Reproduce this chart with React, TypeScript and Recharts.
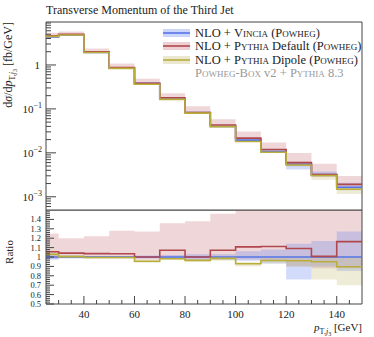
import React from "react";
import { ComposedChart, Line, Area, XAxis, YAxis, ReferenceArea } from "recharts";

// bin edges of the pT(j3) histogram [GeV]
const binEdges = [25, 30, 40, 50, 60, 70, 80, 90, 100, 110, 120, 130, 140, 150];

// central values [fb/GeV]
const vincia = [4.35, 4.8, 1.93, 0.84, 0.38, 0.168, 0.083, 0.04, 0.0195, 0.0107, 0.0055, 0.0032, 0.00165];
const pythiaDefault = [4.59, 5.0, 2.0, 0.869, 0.38, 0.18, 0.083, 0.0429, 0.0216, 0.0119, 0.006, 0.00322, 0.00192];
const pythiaDipole = [4.48, 4.82, 1.92, 0.836, 0.363, 0.165, 0.08, 0.0394, 0.0181, 0.0103, 0.00528, 0.00304, 0.00148];

// uncertainty bands, read as ratio to Vincia
const vinciaLo = [0.97, 0.985, 0.99, 0.99, 0.985, 0.98, 0.97, 0.97, 0.96, 0.93, 0.76, 0.9, 0.85];
const vinciaHi = [1.03, 1.015, 1.01, 1.01, 1.015, 1.02, 1.03, 1.03, 1.06, 1.08, 1.14, 1.17, 1.27];
const defaultLo = [0.98, 0.99, 0.99, 0.99, 0.97, 0.99, 0.97, 0.99, 0.97, 0.97, 0.9, 0.88, 0.88];
const defaultHi = [1.25, 1.2, 1.22, 1.28, 1.27, 1.36, 1.38, 1.46, 1.56, 1.6, 1.8, 1.76, 1.8];
const dipoleLo = [1.0, 0.99, 0.98, 0.98, 0.94, 0.97, 0.95, 0.96, 0.9, 0.93, 0.9, 0.76, 0.7];
const dipoleHi = [1.07, 1.02, 1.01, 1.01, 0.97, 1.0, 0.98, 1.0, 0.95, 0.99, 1.0, 1.0, 1.0];

const xTicks = [30, 35, 40, 45, 50, 55, 60, 65, 70, 75, 80, 85, 90, 95, 100, 105, 110, 115, 120, 125, 130, 135, 140, 145];
const logTicks = [
  6e-4, 7e-4, 8e-4, 9e-4, 1e-3, 2e-3, 3e-3, 4e-3, 5e-3, 6e-3, 7e-3, 8e-3, 9e-3,
  1e-2, 2e-2, 3e-2, 4e-2, 5e-2, 6e-2, 7e-2, 8e-2, 9e-2,
  0.1, 0.2, 0.3, 0.4, 0.5, 0.6, 0.7, 0.8, 0.9, 1, 2, 3, 4, 5, 6, 7, 8, 9,
];
const ratioTicks = [
  0.5, 0.52, 0.54, 0.56, 0.58, 0.6, 0.62, 0.64, 0.66, 0.68, 0.7, 0.72, 0.74, 0.76, 0.78,
  0.8, 0.82, 0.84, 0.86, 0.88, 0.9, 0.92, 0.94, 0.96, 0.98, 1, 1.02, 1.04, 1.06, 1.08,
  1.1, 1.12, 1.14, 1.16, 1.18, 1.2, 1.22, 1.24, 1.26, 1.28, 1.3, 1.32, 1.34, 1.36, 1.38, 1.4,
  1.42, 1.44, 1.46, 1.48,
];

const BLUE = "#5574e6";
const RED = "#b0474d";
const YELLOW = "#b9ad3c";
const FONT = "'Liberation Serif', serif";
const AXIS = "#444";

// stepAfter needs a closing point at the last edge
const rows = binEdges.map((x, i) => {
  const k = Math.min(i, vincia.length - 1);
  const v = vincia[k];
  return {
    x,
    vincia: v,
    def: pythiaDefault[k],
    dip: pythiaDipole[k],
    vBand: [v * vinciaLo[k], v * vinciaHi[k]],
    dBand: [v * defaultLo[k], v * defaultHi[k]],
    pBand: [v * dipoleLo[k], v * dipoleHi[k]],
    rVincia: 1,
    rDef: pythiaDefault[k] / v,
    rDip: pythiaDipole[k] / v,
    rvBand: [vinciaLo[k], vinciaHi[k]],
    rdBand: [defaultLo[k], defaultHi[k]],
    rpBand: [dipoleLo[k], dipoleHi[k]],
  };
});

const isDecade = (v: number) => Math.abs(Math.log10(v) - Math.round(Math.log10(v))) < 1e-6;

const makeXTick = (labels: boolean) => (props: any) => {
  const { x, y, payload } = props;
  const v = payload.value;
  const major = v % 20 === 0;
  return (
    <g>
      <line x1={x} x2={x} y1={y} y2={y - (major ? 8 : 4)} stroke={AXIS} />
      {labels && major && (
        <text x={x} y={y + 14} textAnchor="middle" fontSize={11} fontFamily={FONT} fill="#222">
          {v}
        </text>
      )}
    </g>
  );
};

const LogTick = (props: any) => {
  const { x, y, payload } = props;
  const v = payload.value;
  const major = isDecade(v);
  const exp = Math.round(Math.log10(v));
  return (
    <g>
      <line x1={x} x2={x + (major ? 10 : 5)} y1={y} y2={y} stroke={AXIS} />
      {major &&
        (exp === 0 ? (
          <text x={x - 6} y={y + 4} textAnchor="end" fontSize={11} fontFamily={FONT} fill="#222">
            1
          </text>
        ) : (
          <text x={x - 4} y={y + 4} textAnchor="end" fontSize={11} fontFamily={FONT} fill="#222">
            10
            <tspan dy={-5} fontSize={8}>
              {"\u2212" + Math.abs(exp)}
            </tspan>
          </text>
        ))}
    </g>
  );
};

const RatioTick = (props: any) => {
  const { x, y, payload } = props;
  const v = payload.value;
  const tenth = Math.round(v * 10);
  const major = Math.abs(v * 10 - tenth) < 1e-6;
  return (
    <g>
      <line x1={x} x2={x + (major ? 8 : 4)} y1={y} y2={y} stroke={AXIS} />
      {major && (
        <text x={x - 5} y={y + 3} textAnchor="end" fontSize={8.5} fontFamily={FONT} fill="#222">
          {tenth === 10 ? "1" : (tenth / 10).toFixed(1)}
        </text>
      )}
    </g>
  );
};

const bandProps = { type: "stepAfter" as const, stroke: "none", isAnimationActive: false, activeDot: false, dot: false };
const lineProps = { type: "stepAfter" as const, strokeWidth: 1.6, dot: false, activeDot: false, isAnimationActive: false };

const LegendRow = ({ y, color, band, label }: { y: number; color: string; band: string; label: React.ReactNode }) => (
  <g>
    <rect x={163} y={y - 4} width={27} height={8} fill={band} />
    <line x1={163} x2={190} y1={y} y2={y} stroke={color} strokeWidth={1.6} />
    <text x={195} y={y + 4} fontSize={12.5} fontFamily={FONT} fill="#222">
      {label}
    </text>
  </g>
);

const SC = ({ children }: { children: React.ReactNode }) => (
  <tspan style={{ fontVariant: "small-caps" }}>{children}</tspan>
);

export default function App() {
  return (
    <div style={{ position: "absolute", left: 0, top: 0, width: 374, height: 337, background: "#fff" }}>
      <div style={{ position: "absolute", left: 0, top: 0 }}>
        <ComposedChart width={374} height={212} data={rows} margin={{ top: 22, right: 12, bottom: 2, left: 0 }}>
          <XAxis
            dataKey="x"
            type="number"
            domain={[25, 150]}
            ticks={xTicks}
            interval={0}
            allowDataOverflow
            height={0}
            tickSize={0}
            tickMargin={0}
            tickLine={false}
            axisLine={false}
            tick={makeXTick(false)}
          />
          <YAxis
            scale="log"
            type="number"
            domain={[5e-4, 9.5]}
            ticks={logTicks}
            interval={0}
            allowDataOverflow
            width={46}
            tickSize={0}
            tickMargin={0}
            tickLine={false}
            axisLine={false}
            tick={LogTick}
          />
          <Area dataKey="dBand" {...bandProps} fill="rgb(196,110,120)" fillOpacity={0.28} />
          <Area dataKey="vBand" {...bandProps} fill="rgb(110,135,240)" fillOpacity={0.3} />
          <Area dataKey="pBand" {...bandProps} fill="rgb(200,190,120)" fillOpacity={0.3} />
          <Line dataKey="vincia" {...lineProps} stroke={BLUE} />
          <Line dataKey="def" {...lineProps} stroke={RED} />
          <Line dataKey="dip" {...lineProps} stroke={YELLOW} />
          <ReferenceArea x1={25} x2={150} y1={5e-4} y2={9.5} fill="none" stroke={AXIS} strokeWidth={1} />
        </ComposedChart>
      </div>
      <div style={{ position: "absolute", left: 0, top: 210 }}>
        <ComposedChart width={374} height={127} data={rows} margin={{ top: 0, right: 12, bottom: 0, left: 0 }}>
          <XAxis
            dataKey="x"
            type="number"
            domain={[25, 150]}
            ticks={xTicks}
            interval={0}
            allowDataOverflow
            height={33}
            tickSize={0}
            tickMargin={0}
            tickLine={false}
            axisLine={false}
            tick={makeXTick(true)}
          />
          <YAxis
            type="number"
            domain={[0.5, 1.5]}
            ticks={ratioTicks}
            interval={0}
            allowDataOverflow
            width={46}
            tickSize={0}
            tickMargin={0}
            tickLine={false}
            axisLine={false}
            tick={RatioTick}
          />
          <Area dataKey="rdBand" {...bandProps} fill="rgb(196,110,120)" fillOpacity={0.28} />
          <Area dataKey="rvBand" {...bandProps} fill="rgb(110,135,240)" fillOpacity={0.3} />
          <Area dataKey="rpBand" {...bandProps} fill="rgb(200,190,120)" fillOpacity={0.3} />
          <Line dataKey="rVincia" {...lineProps} stroke={BLUE} />
          <Line dataKey="rDef" {...lineProps} stroke={RED} />
          <Line dataKey="rDip" {...lineProps} stroke={YELLOW} />
          <ReferenceArea x1={25} x2={150} y1={0.5} y2={1.5} fill="none" stroke={AXIS} strokeWidth={1} />
        </ComposedChart>
      </div>
      <svg width={374} height={337} style={{ position: "absolute", left: 0, top: 0, pointerEvents: "none" }}>
        <text x={46} y={14} fontSize={12} fontFamily={FONT} fill="#222">
          Transverse Momentum of the Third Jet
        </text>
        <text transform="translate(12,22) rotate(-90)" textAnchor="end" fontSize={12} fontFamily={FONT} fill="#222">
          d<tspan fontStyle="italic">σ</tspan>/d<tspan fontStyle="italic">p</tspan>
          <tspan dy={3} fontSize={8}>T,</tspan>
          <tspan fontSize={8} fontStyle="italic">j</tspan>
          <tspan dy={1.5} fontSize={6}>3</tspan>
          <tspan dy={-4.5}> [fb/GeV]</tspan>
        </text>
        <text transform="translate(13,252) rotate(-90)" textAnchor="middle" fontSize={11} fontFamily={FONT} fill="#222">
          Ratio
        </text>
        <text x={362} y={331} textAnchor="end" fontSize={11} fontFamily={FONT} fill="#222">
          <tspan fontStyle="italic">p</tspan>
          <tspan dy={3} fontSize={8}>T,</tspan>
          <tspan fontSize={8} fontStyle="italic">j</tspan>
          <tspan dy={1.5} fontSize={6}>3</tspan>
          <tspan dy={-4.5}> [GeV]</tspan>
        </text>
        <LegendRow y={33} color={BLUE} band="rgba(110,135,240,0.35)" label={<>NLO + <SC>Vincia</SC> (<SC>Powheg</SC>)</>} />
        <LegendRow y={46} color={RED} band="rgba(196,110,120,0.32)" label={<>NLO + <SC>Pythia</SC> Default (<SC>Powheg</SC>)</>} />
        <LegendRow y={60} color={YELLOW} band="rgba(200,190,120,0.35)" label={<>NLO + <SC>Pythia</SC> Dipole (<SC>Powheg</SC>)</>} />
        <text x={195} y={77} fontSize={12.5} fontFamily={FONT} fill="#999">
          <SC>Powheg-Box</SC> v2 + <SC>Pythia</SC> 8.3
        </text>
      </svg>
    </div>
  );
}
